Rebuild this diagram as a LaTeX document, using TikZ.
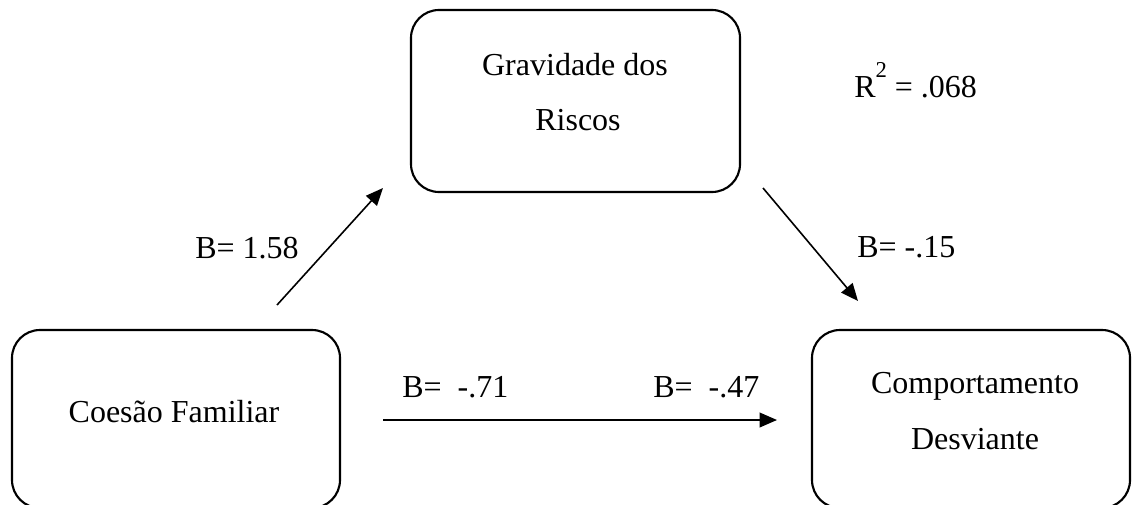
\documentclass[tikz,border=0pt]{standalone}
\usepackage{fontspec}
\setmainfont{Liberation Serif}
\usetikzlibrary{arrows.meta}
\begin{document}
\begin{tikzpicture}[x=0.75pt,y=-0.75pt,
  boxnode/.style={draw,line width=1.6pt,rounded corners=21pt,inner sep=0pt},
  txt/.style={inner sep=0pt,anchor=base west,font=\fontsize{24pt}{28pt}\selectfont},
  ctxt/.style={inner sep=0pt,anchor=base,font=\fontsize{24pt}{28pt}\selectfont},
  arr/.style={line width=1.2pt,-{Triangle[length=13pt,width=11pt]}}]
\useasboundingbox (0,0) rectangle (1132,504);
\clip (0,0) rectangle (1132,504);
% boxes
\node[boxnode,minimum width=246.75pt,minimum height=136.5pt] (grav) at (575.5,101) {};
\node[boxnode,minimum width=246pt,minimum height=133.5pt] (coes) at (176,419) {};
\node[boxnode,minimum width=238.5pt,minimum height=133.5pt] (comp) at (971,419) {};
% box texts
\node[ctxt] (g1) at (575,75) {Gravidade dos};
\node[ctxt] (g2) at (578,130) {Riscos};
\node[ctxt] (c1) at (174,422) {Coesão Familiar};
\node[ctxt] (d1) at (975,393) {Comportamento};
\node[ctxt] (d2) at (975,449) {Desviante};
% labels
\node[txt] (r2) at (854,97) {R\raisebox{0.6em}{\fontsize{17pt}{17pt}\selectfont 2} = .068};
\node[txt] (la) at (195,258) {B= 1.58};
\node[txt] (lb) at (857,257) {B= -.15};
\node[txt] (lc) at (402,397) {B=\ \ -.71};
\node[txt] (ld) at (653,397) {B=\ \ -.47};
% arrows
\coordinate (a1s) at (277,305);
\coordinate (a1e) at (383,188);
\coordinate (a2s) at (763,188);
\coordinate (a2e) at (858,301);
\coordinate (a3s) at (383,420);
\coordinate (a3e) at (777,420);
\draw[arr] (a1s) -- (a1e);
\draw[arr] (a2s) -- (a2e);
\draw[arr] (a3s) -- (a3e);
\end{tikzpicture}
\end{document}
